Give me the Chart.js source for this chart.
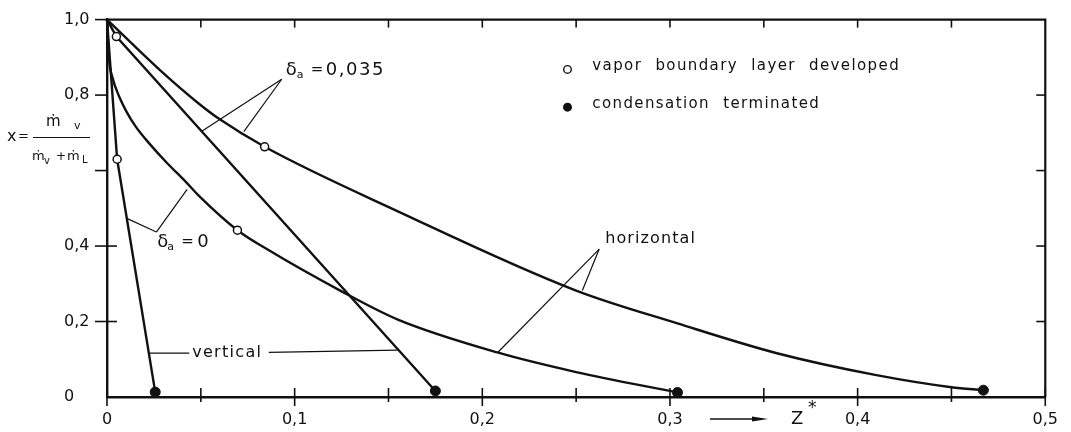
<!DOCTYPE html>
<html><head><meta charset="utf-8">
<script src="https://cdn.jsdelivr.net/npm/chart.js@4.4.0/dist/chart.umd.min.js"></script>
<style>html,body{margin:0;padding:0;background:#fff;}canvas{display:block;}</style>
</head><body>
<canvas id="c" width="1071" height="432"></canvas>
<script>
// ---- data (Z*, x) ----
const xTickValues = [0,0.05,0.1,0.15,0.2,0.25,0.3,0.35,0.4,0.45,0.5];
const xTickLabels = ['0','','0,1','','0,2','','0,3','','0,4','','0,5'];
const yTickValues = [0,0.2,0.4,0.6,0.8,1.0];
const yTickLabels = ['0','0,2','0,4','','0,8','1,0'];

const curveVerticalDelta0 = [[0,1.0],[0.0054,0.63],[0.0257,0.013]];
const curveVerticalDelta035 = [[0,1.0],[0.005,0.955],[0.175,0.016]];
const curveHorizontalDelta0 = [[0,1.0],[0.001,0.9],[0.003,0.845],[0.0066,0.795],[0.0103,0.757],[0.0155,0.715],[0.0225,0.672],[0.0316,0.622],[0.042,0.57],[0.049,0.533],[0.0695,0.442],[0.0845,0.394],[0.125,0.28],[0.155,0.205],[0.208,0.118],[0.25,0.066],[0.304,0.012]];
const curveHorizontalDelta035 = [[0,1.0],[0.03,0.858],[0.049,0.777],[0.0597,0.737],[0.084,0.663],[0.155,0.492],[0.25,0.282],[0.304,0.195],[0.357,0.116],[0.41,0.058],[0.45,0.026],[0.467,0.018]];
const boundaryLayerDeveloped = [[0.005,0.955],[0.0054,0.63],[0.0695,0.442],[0.084,0.663]];
const condensationTerminated = [[0.0257,0.013],[0.175,0.016],[0.304,0.012],[0.467,0.018]];

// annotation leader lines (data coordinates)
const leaderLines = [
  [[0.0931,0.842],[0.0501,0.703]], [[0.0931,0.842],[0.0729,0.703]],
  [[0.0263,0.437],[0.0103,0.474]], [[0.0263,0.437],[0.0427,0.55]],
  [[0.0225,0.116],[0.0438,0.116]], [[0.0862,0.118],[0.155,0.124]],
  [[0.2623,0.392],[0.2082,0.118]], [[0.2623,0.392],[0.2533,0.282]]
];

const toXY = a => a.map(p => ({x:p[0], y:p[1]}));
const INK = '#111';

function lineDs(data, tension){
  return {data: toXY(data), showLine:true, borderColor:INK, borderWidth:2.4, pointRadius:0,
    tension: tension, cubicInterpolationMode: tension ? 'monotone' : 'default', clip:false, order:1};
}

const annot = {
  id:'annot',
  afterDraw(chart){
    const ctx = chart.ctx, xs = chart.scales.x, ys = chart.scales.y;
    const X = v => xs.getPixelForValue(v), Y = v => ys.getPixelForValue(v);
    const a = chart.chartArea;
    ctx.save();
    ctx.strokeStyle = INK; ctx.fillStyle = INK; ctx.lineCap = 'butt';
    // frame top/right
    ctx.lineWidth = 2.2;
    ctx.beginPath(); ctx.moveTo(a.left-1, a.top); ctx.lineTo(a.right, a.top); ctx.lineTo(a.right, a.bottom); ctx.stroke();
    // ticks
    ctx.lineWidth = 1.6;
    xTickValues.forEach((v,i) => {
      const px = X(v);
      if (v>0 && v<0.5){ ctx.beginPath(); ctx.moveTo(px, a.top); ctx.lineTo(px, a.top+8); ctx.stroke(); }
      ctx.beginPath(); ctx.moveTo(px, a.bottom-9); ctx.lineTo(px, a.bottom+(xTickLabels[i]?9:5)); ctx.stroke();
    });
    yTickValues.forEach(v => {
      const py = Y(v);
      if (v>0){
        ctx.beginPath(); ctx.moveTo(a.left-12, py); ctx.lineTo(a.left+(v<0.5?10:0), py); ctx.stroke();
        if (v<1){ ctx.beginPath(); ctx.moveTo(a.right-9, py); ctx.lineTo(a.right, py); ctx.stroke(); }
      }
    });
    // leader lines
    ctx.lineWidth = 1.2;
    leaderLines.forEach(s => { ctx.beginPath(); ctx.moveTo(X(s[0][0]),Y(s[0][1])); ctx.lineTo(X(s[1][0]),Y(s[1][1])); ctx.stroke(); });

    ctx.textBaseline = 'middle'; ctx.textAlign = 'left';
    const txt = (s, x, y, size, sp, ws) => { ctx.font = size+'px "DejaVu Sans"'; ctx.letterSpacing = (sp||0)+'px'; ctx.wordSpacing = (ws||0)+'px'; ctx.fillText(s, x, y); };
    // delta labels
    let x0 = X(0.0953), y0 = Y(0.866);
    txt('\u03b4', x0, y0, 18); txt('a', x0+11, y0+5, 11); txt('=', x0+25, y0, 15); txt('0,035', x0+40, y0, 18, 1.5);
    x0 = X(0.0268); y0 = Y(0.41);
    txt('\u03b4', x0, y0, 18); txt('a', x0+10, y0+5, 11); txt('=', x0+24, y0, 15); txt('0', x0+40, y0, 18);
    txt('vertical', X(0.0454), Y(0.118), 16, 1.3);
    txt('horizontal', X(0.2655), Y(0.418), 16, 1.1);
    // legend
    ctx.lineWidth = 1.4;
    ctx.beginPath(); ctx.arc(X(0.2454), Y(0.868), 3.8, 0, Math.PI*2); ctx.fillStyle='#fff'; ctx.fill(); ctx.stroke();
    ctx.fillStyle = INK;
    ctx.beginPath(); ctx.arc(X(0.2454), Y(0.768), 4.5, 0, Math.PI*2); ctx.fill();
    txt('vapor boundary layer developed', X(0.2586), Y(0.876), 15, 1.4, 7);
    txt('condensation terminated', X(0.2586), Y(0.776), 15, 1.4, 7);
    // x axis title with arrow
    ctx.lineWidth = 1.3;
    ctx.beginPath(); ctx.moveTo(710, 419); ctx.lineTo(755, 419); ctx.stroke();
    ctx.beginPath(); ctx.moveTo(768, 419); ctx.lineTo(752, 416.5); ctx.lineTo(752, 421.5); ctx.closePath(); ctx.fill();
    txt('Z', 791, 419, 18); txt('*', 808, 409, 17);
    // y axis title
    txt('x', 7, 137, 16); txt('=', 18, 137, 13);
    ctx.lineWidth = 1.2;
    ctx.beginPath(); ctx.moveTo(33, 137.5); ctx.lineTo(90, 137.5); ctx.stroke();
    txt('\u1e41', 46, 122, 15); txt('v', 74, 126, 11);
    txt('\u1e41', 32, 157, 13); txt('v', 44, 161, 10); txt('+', 56, 157, 12); txt('\u1e41', 67, 157, 13); txt('L', 82, 160, 10);
    ctx.restore();
  }
};

Chart.defaults.font.family = '"DejaVu Sans"';
Chart.defaults.color = INK;

new Chart(document.getElementById('c'), {
  type: 'scatter',
  data: { datasets: [
    {data: toXY(boundaryLayerDeveloped), pointRadius:4, pointBackgroundColor:'#fff', pointBorderColor:INK, pointBorderWidth:1.5, showLine:false, clip:false, order:0},
    {data: toXY(condensationTerminated), pointRadius:5, pointBackgroundColor:INK, pointBorderColor:INK, pointBorderWidth:1, showLine:false, clip:false, order:0},
    lineDs(curveVerticalDelta0, 0),
    lineDs(curveVerticalDelta035, 0),
    lineDs(curveHorizontalDelta0, 0.4),
    lineDs(curveHorizontalDelta035, 0.4)
  ]},
  options: {
    responsive:false, animation:false, devicePixelRatio:1,
    layout: {padding:{left:64, right:21, top:17, bottom:0}},
    plugins: {legend:{display:false}, tooltip:{enabled:false}},
    scales: {
      x: {type:'linear', min:0, max:0.5,
        afterBuildTicks: s => { s.ticks = xTickValues.map(v => ({value:v})); },
        afterFit: s => { s.height = 35; },
        grid:{display:false, drawTicks:false}, border:{display:true, color:INK, width:2.4},
        ticks:{autoSkip:false, padding:13, font:{size:16}, color:INK, maxRotation:0,
          callback:(v) => { const i = xTickValues.findIndex(t => Math.abs(t-v)<1e-9); return i>=0 ? xTickLabels[i] : ''; }}
      },
      y: {type:'linear', min:0, max:1,
        afterBuildTicks: s => { s.ticks = yTickValues.map(v => ({value:v})); },
        afterFit: s => { s.width = 43; },
        grid:{display:false, drawTicks:false}, border:{display:true, color:INK, width:2.4},
        ticks:{crossAlign:'far', padding:10, font:{size:16}, color:INK,
          callback:(v) => { const i = yTickValues.findIndex(t => Math.abs(t-v)<1e-9); return i>=0 ? yTickLabels[i] : ''; }}
      }
    }
  },
  plugins:[annot]
});
</script>
</body></html>
